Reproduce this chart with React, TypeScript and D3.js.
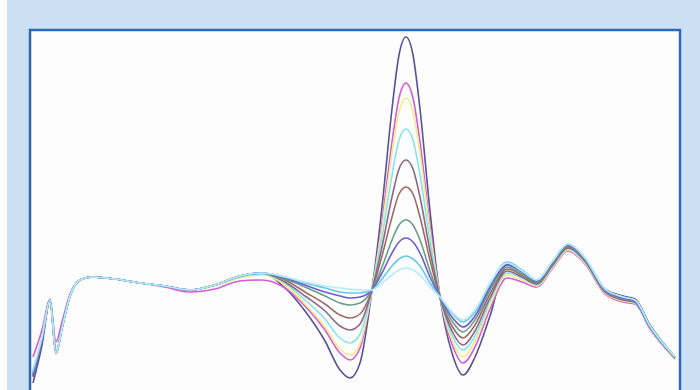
import { useEffect, useRef } from "react";
import * as d3 from "d3";

// sample positions along the spectrum (channel)
const channel = [0, 9, 17, 23, 29, 37, 47, 59, 82, 107, 132, 157, 182, 207, 229, 252, 272, 292, 307, 317, 327, 339, 349, 359, 366, 373, 380, 387, 397, 407, 419, 430, 442, 457, 474, 489, 504, 519, 535, 552, 572, 590, 602, 617, 642];

const navy = [7, 45, 90, 37, 62, 94, 110, 113, 111, 107, 104, 100, 105, 114, 117, 102, 79, 49, 20, 12, 27, 100, 183, 281, 335, 353, 335, 281, 179, 93, 37, 15, 33, 74, 126, 119, 109, 127, 145, 131, 101, 94, 91, 65, 33];
const magenta = [33, 60, 91, 48, 68, 96, 110, 113, 111, 107, 103, 98, 101, 109, 110, 102, 84, 60, 37, 30, 42, 100, 168, 248, 292, 307, 292, 248, 164, 93, 46, 27, 43, 81, 112, 108, 103, 121, 139, 126, 96, 88, 86, 61, 31];
const yellow = [20, 52, 90, 37, 62, 94, 110, 113, 111, 107, 104, 100, 104, 112, 115, 105, 86, 63, 41, 35, 46, 100, 163, 237, 278, 292, 278, 237, 159, 93, 50, 33, 49, 85, 115, 110, 104, 122, 140, 127, 97, 89, 87, 62, 31];
const cyan = [18, 52, 90, 37, 62, 94, 110, 113, 111, 107, 104, 100, 105, 113, 116, 107, 90, 71, 52, 47, 56, 100, 153, 215, 250, 261, 250, 215, 149, 93, 55, 40, 54, 89, 117, 112, 105, 123, 141, 128, 98, 90, 87, 62, 32];
const purple = [15, 50, 90, 37, 62, 94, 110, 113, 111, 107, 104, 100, 105, 114, 117, 108, 94, 79, 64, 60, 66, 100, 143, 193, 221, 230, 221, 193, 139, 93, 59, 45, 59, 92, 119, 113, 106, 124, 142, 129, 98, 90, 88, 63, 32];
const darkRed = [13, 50, 90, 37, 62, 94, 110, 113, 111, 107, 104, 100, 105, 114, 117, 110, 98, 86, 75, 72, 76, 100, 134, 173, 196, 203, 196, 173, 130, 93, 64, 52, 65, 96, 121, 115, 107, 125, 143, 129, 99, 91, 88, 63, 32];
const teal = [16, 51, 90, 37, 62, 94, 110, 113, 111, 107, 104, 100, 105, 114, 117, 111, 103, 94, 87, 85, 87, 100, 123, 150, 165, 170, 165, 150, 119, 93, 69, 58, 70, 100, 123, 116, 108, 126, 144, 130, 99, 91, 89, 63, 33];
const blue = [14, 50, 90, 37, 62, 94, 110, 113, 111, 107, 104, 100, 105, 114, 117, 112, 105, 98, 94, 92, 93, 100, 117, 137, 148, 152, 148, 137, 113, 93, 73, 63, 74, 103, 125, 118, 109, 127, 145, 131, 100, 92, 89, 63, 33];
const skyBlue = [18, 52, 90, 37, 62, 94, 110, 113, 111, 107, 104, 100, 105, 114, 117, 113, 107, 102, 98, 97, 97, 100, 111, 124, 131, 134, 131, 124, 107, 93, 77, 68, 78, 106, 128, 120, 110, 128, 146, 132, 101, 93, 90, 64, 33];
const paleCyan = [22, 53, 90, 37, 62, 94, 110, 113, 111, 107, 104, 100, 105, 114, 117, 113, 108, 104, 102, 101, 100, 100, 107, 115, 120, 122, 120, 115, 103, 93, 78, 70, 80, 107, 127, 119, 110, 128, 146, 132, 101, 93, 90, 64, 33];

const series = [navy, magenta, yellow, cyan, purple, darkRed, teal, blue, skyBlue, paleCyan];
const colors = ["#565293", "#d65ada", "#f2ec84", "#84e4f0", "#8c6684", "#9b6a66", "#689e88", "#6a5cd0", "#66c8ee", "#b6ecfa"];

export default function App() {
    const ref = useRef<SVGSVGElement>(null);

    useEffect(() => {
        const width = 700;
        const height = 390;

        const svg = d3.select(ref.current);
        svg.selectAll("*").remove();

        // page background and plot panel
        svg.append("rect").attr("x", 0).attr("y", 0).attr("width", width).attr("height", height).attr("fill", "#ffffff");
        svg.append("rect").attr("x", 7).attr("y", 0).attr("width", width - 7).attr("height", height).attr("fill", "#cce0f4");
        svg.append("rect")
            .attr("x", 30).attr("y", 30)
            .attr("width", 650).attr("height", 380)
            .attr("fill", "#fdfdfd")
            .attr("stroke", "#2e68b2")
            .attr("stroke-width", 2.5);

        const x = d3.scaleLinear().domain([0, 642]).range([33, 675]);
        const y = d3.scaleLinear().domain([0, 360]).range([390, 30]);

        const line = d3.line<number>()
            .x((d, i) => x(channel[i]))
            .y(d => y(d))
            .curve(d3.curveMonotoneX);

        svg.append("g")
            .selectAll("path")
            .data(series)
            .join("path")
            .attr("fill", "none")
            .attr("stroke", (d, i) => colors[i])
            .attr("stroke-width", 1.6)
            .attr("stroke-linejoin", "round")
            .attr("d", d => line(d));

        return () => {
            d3.select(ref.current).selectAll("*").remove();
        };
    });

    return (
        <svg ref={ref} width={700} height={390} style={{ position: "absolute", left: 0, top: 0 }} />
    );
}
